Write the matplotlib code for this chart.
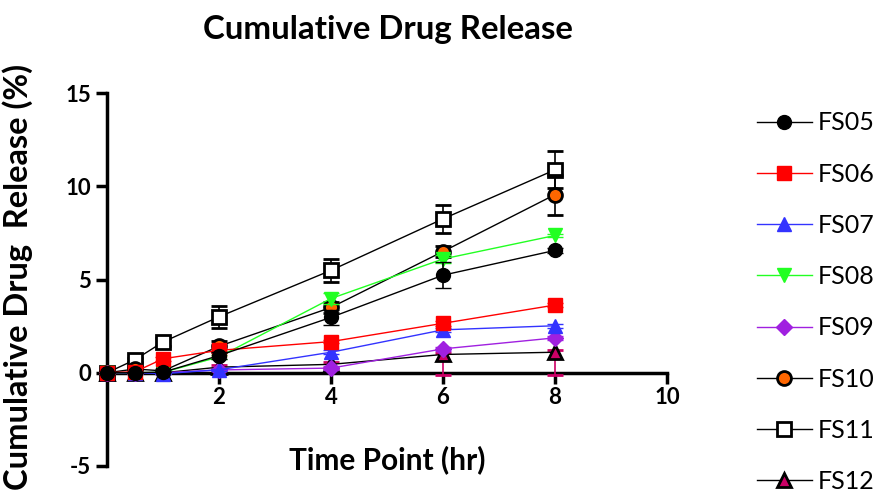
import matplotlib
matplotlib.use('Agg')
import matplotlib.pyplot as plt

plt.rcParams['font.family'] = ['Lato', 'DejaVu Sans']
plt.rcParams['axes.unicode_minus'] = False

# time points and release (%) per formulation
time = [0, 0.5, 1, 2, 4, 6, 8]

fs05 = [0, 0, 0.03, 0.92, 2.97, 5.23, 6.56]
fs06 = [0, 0.05, 0.75, 1.2, 1.67, 2.65, 3.63]
fs07 = [0, 0, -0.05, 0.16, 1.1, 2.3, 2.52]
fs08 = [0, 0, 0.02, 0.85, 3.98, 6.1, 7.36]
fs09 = [0, 0, 0, 0.15, 0.25, 1.28, 1.87]
fs10 = [0, 0.2, 0.1, 1.42, 3.5, 6.5, 9.55]
fs11 = [0, 0.7, 1.65, 3.0, 5.49, 8.25, 10.88]
fs12 = [0, 0, 0, 0.3, 0.45, 0.98, 1.1]

err05 = [0, 0, 0, 0.2, 0.4, 0.7, 0.15]
err06 = [0, 0, 0.1, 0.1, 0.1, 0.15, 0.1]
err07 = [0, 0, 0, 0.05, 0.1, 0.1, 0.1]
err08 = [0, 0, 0, 0.1, 0.3, 0.2, 0.1]
err09 = [0, 0, 0, 0.05, 0.1, 0.1, 0.1]
err10 = [0, 0, 0, 0.3, 0.3, 0.3, 1.07]
err11 = [0, 0.1, 0.2, 0.6, 0.6, 0.75, 1.0]
err12_low = [0, 0, 0, 0.1, 0.2, 1.1, 1.2]
err12_up = [0, 0, 0, 0.1, 0.1, 0.1, 0.1]

labels = ['FS05', 'FS06', 'FS07', 'FS08', 'FS09', 'FS10', 'FS11', 'FS12']
series = [fs05, fs06, fs07, fs08, fs09, fs10, fs11, fs12]
errors = [err05, err06, err07, err08, err09, err10, err11, [err12_low, err12_up]]

styles = [
    dict(marker='o', color='black', mfc='black', mec='black', ecolor='black'),
    dict(marker='s', color='#ff0000', mfc='#ff0000', mec='#ff0000', ecolor='#ff0000'),
    dict(marker='^', color='#3333ff', mfc='#3333ff', mec='#3333ff', ecolor='#3333ff'),
    dict(marker='v', color='#22ff22', mfc='#22ff22', mec='#22ff22', ecolor='#22ff22'),
    dict(marker='D', color='#a020e0', mfc='#a020e0', mec='#a020e0', ecolor='#a020e0', ms=8),
    dict(marker='o', color='black', mfc='#ff6600', mec='black', ecolor='black', mew=2),
    dict(marker='s', color='black', mfc='white', mec='black', ecolor='black', mew=2),
    dict(marker='^', color='black', mfc='#cc0066', mec='black', ecolor='#cc0066', mew=2),
]

fig = plt.figure(figsize=(8.81, 4.95), dpi=100)
ax = fig.add_axes([0.1215, 0.0586, 0.6355, 0.7535])

n = len(series)
for i, (lab, y, e, st) in enumerate(zip(labels, series, errors, styles)):
    st = dict(st)
    ms = st.pop('ms', 10)
    mew = st.pop('mew', 1)
    ecol = st.pop('ecolor')
    ax.errorbar(time, y, yerr=e, label=lab, lw=1, ms=ms, mew=mew,
                ecolor=ecol, elinewidth=1.2, capsize=6, capthick=1.2,
                zorder=10 + (n - i), clip_on=False, **st)

ax.set_xlim(0, 10)
ax.set_ylim(-5, 15)
ax.set_xticks([2, 4, 6, 8, 10])
ax.set_yticks([-5, 0, 5, 10, 15])

ax.spines['top'].set_visible(False)
ax.spines['right'].set_visible(False)
ax.spines['bottom'].set_position(('data', 0))
for s in ['left', 'bottom']:
    ax.spines[s].set_linewidth(2.5)
ax.tick_params(width=2.5, length=8, direction='out', labelsize=16)
ax.tick_params(axis='x', pad=2)
for t in ax.get_xticklabels() + ax.get_yticklabels():
    t.set_fontweight('bold')

ax.set_xlabel('Time Point (hr)', fontsize=21.5, fontweight='bold', va='center')
ax.xaxis.set_label_coords(0.5, 0.016)
ax.set_ylabel('Cumulative Drug  Release (%)', fontsize=23.5, fontweight='bold', va='center')
ax.yaxis.set_label_coords(-0.159, 0.507)

fig.text(388 / 881, 1 - 30 / 495, 'Cumulative Drug Release', fontsize=23.8,
         fontweight='bold', ha='center', va='center')

handles, labs = ax.get_legend_handles_labels()
handles = [h[0] for h in handles]
ax.legend(handles, labs, loc='upper left', bbox_to_anchor=(0.859, 0.775),
          bbox_transform=fig.transFigure, frameon=False, fontsize=18,
          borderpad=0, borderaxespad=0,
          labelspacing=1.13, handlelength=2.2, handletextpad=0.24)

fig.savefig('out.png', dpi=100)
